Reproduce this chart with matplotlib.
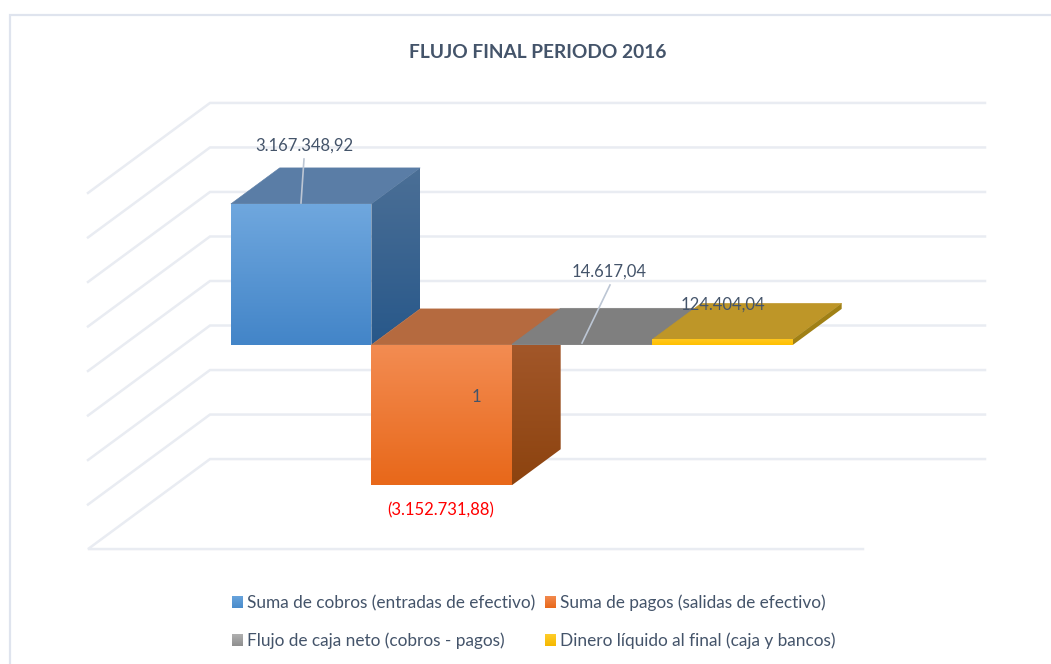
import numpy as np
import matplotlib
matplotlib.use('Agg')
import matplotlib.pyplot as plt
from matplotlib.colors import LinearSegmentedColormap
from matplotlib.patches import Polygon, Rectangle

plt.rcParams['font.family'] = ['Lato', 'DejaVu Sans']

title = 'FLUJO FINAL PERIODO 2016'
series = ['Suma de cobros (entradas de efectivo)', 'Suma de pagos (salidas de efectivo)',
          'Flujo de caja neto (cobros - pagos)', 'Dinero líquido al final (caja y bancos)']
values = [3167348.92, -3152731.88, 14617.04, 124404.04]
labels = ['3.167.348,92', '(3.152.731,88)', '14.617,04', '124.404,04']
ticks = [-4000000, -3000000, -2000000, -1000000, 0, 1000000, 2000000, 3000000, 4000000]

W, H = 1051, 664
BAR_PX = 140.5                  # one bar width in pixels
VAL_PX = 3167348.92 / 141       # value per pixel
X0, Y0 = 88, 371                # pixel of x=0, value=0 at the very front of the floor
DX, DY = 122 / BAR_PX, 90 * VAL_PX   # shift from front of floor to back wall
GAP = 107.5 / BAR_PX
NBARS = 775 / BAR_PX
D1, D2 = 0.29, 0.69             # depth of bar front / back

TEXT = '#44546A'
GRID = '#E9ECF2'


def at(x, v, d=0.0):
    return x + DX * d, v + DY * d


def px(x, y):
    # pixel position (from top left) to data position
    return (x - X0) / BAR_PX, (Y0 - y) * VAL_PX


def shade(ax, pts, top, bottom):
    # polygon filled with a vertical gradient
    xs, ys = zip(*pts)
    cmap = LinearSegmentedColormap.from_list('g', [top, bottom])
    im = ax.imshow(np.linspace(0, 1, 64)[:, None], cmap=cmap, aspect='auto',
                   extent=(min(xs), max(xs), min(ys), max(ys)), zorder=3, interpolation='bilinear')
    clip = Polygon(pts, closed=True, transform=ax.transData, fc='none', ec='none')
    ax.add_patch(clip)
    im.set_clip_path(clip)


def flat(ax, pts, color):
    ax.add_patch(Polygon(pts, closed=True, fc=color, ec=color, lw=0.4, zorder=3))


fig = plt.figure(figsize=(W / 100, H / 100), dpi=100)
ax = fig.add_axes([0, 0, 1, 1])
ax.axis('off')

# chart frame
ax.add_patch(Rectangle(px(10, 15), (W + 40) / BAR_PX, -(H + 40) * VAL_PX,
                       fc='white', ec='#DFE4EE', lw=1.6, zorder=0))

# grid on wall and side
for t in ticks:
    line = [at(0, t), at(0, t, 1), at(NBARS, t, 1)]
    if t == ticks[0]:
        line = [at(NBARS, t)] + line
    ax.plot(*zip(*line), color=GRID, lw=1.8, zorder=1, solid_joinstyle='miter')

# bars
faces = [('#6FA7DE', '#4385C8'), ('#F38C52', '#E8681A'), ('#8C8C8C', '#808080'), ('#FFC71E', '#FFC000')]
sides = [('#4B6F96', '#28588A'), ('#A85C30', '#8C430F'), ('#6E6E6E', '#5E5E5E'), ('#A08015', '#A08015')]
tops = ['#5A7DA6', '#B56A3F', '#7F7F7F', '#BE9628']

for i in [0, 1, 2, 3]:
    x1, x2 = GAP + i, GAP + i + 1
    v = values[i]
    hi, lo = max(v, 0), min(v, 0)
    front = [at(x1, hi, D1), at(x2, hi, D1), at(x2, lo, D1), at(x1, lo, D1)]
    top = [at(x1, hi, D1), at(x2, hi, D1), at(x2, hi, D2), at(x1, hi, D2)]
    side = [at(x2, hi, D1), at(x2, hi, D2), at(x2, lo, D2), at(x2, lo, D1)]
    flat(ax, top, tops[i])
    shade(ax, side, *sides[i])
    shade(ax, front, *faces[i])

# data labels
ax.plot(*zip(px(304, 159), px(301, 203)), color='#BCC6D4', lw=1.2, zorder=4)
ax.plot(*zip(px(610, 285), px(582, 343)), color='#BCC6D4', lw=1.2, zorder=4)
ax.text(*px(304, 146), labels[0], color=TEXT, fontsize=12, ha='center', va='center', zorder=5)
ax.text(*px(441, 510), labels[1], color='#FF0000', fontsize=12, ha='center', va='center', zorder=5)
ax.text(*px(609, 272), labels[2], color=TEXT, fontsize=12, ha='center', va='center', zorder=5)
ax.text(*px(722.5, 305), labels[3], color=TEXT, fontsize=12, ha='center', va='center', zorder=5)
ax.text(*px(476, 397), '1', color=TEXT, fontsize=12, ha='center', va='center', zorder=5)

ax.text(*px(538, 53), title, color=TEXT, fontsize=13.8, fontweight='bold', ha='center', va='center')

# legend, placed by hand like the original
leg = [(232, 602, '#6AA5DE', '#4A8CCB'), (545, 602, '#F38C52', '#E8681A'),
       (232, 640, '#B0B0B0', '#8F8F8F'), (545, 640, '#FFCD2A', '#F5B800')]
for (lx, ly, c1, c2), name in zip(leg, series):
    x_a, y_a = px(lx, ly - 6)
    x_b, y_b = px(lx + 11, ly + 6)
    shade(ax, [(x_a, y_a), (x_b, y_a), (x_b, y_b), (x_a, y_b)], c1, c2)
    ax.text(*px(lx + 15, ly + 1), name, color=TEXT, fontsize=12.45, ha='left', va='center')

ax.set_xlim(-X0 / BAR_PX, (W - X0) / BAR_PX)
ax.set_ylim((Y0 - H) * VAL_PX, Y0 * VAL_PX)

fig.savefig('out.png', dpi=100, facecolor='white')
